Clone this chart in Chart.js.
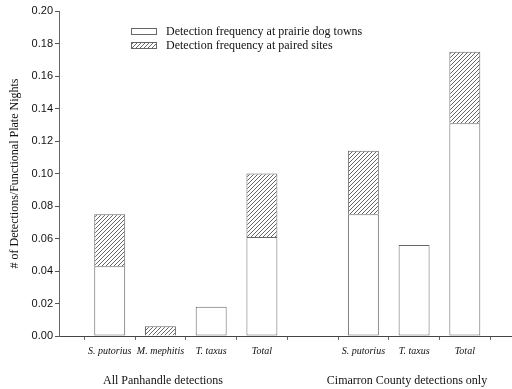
<!DOCTYPE html>
<html>
<head>
<meta charset="utf-8">
<script src="https://cdn.jsdelivr.net/npm/chart.js@4/dist/chart.umd.min.js"></script>
<style>
  html, body { margin: 0; padding: 0; background: #fff; }
  #wrap { width: 512px; height: 389px; }
</style>
</head>
<body>
<div id="wrap"><canvas id="c" width="512" height="389"></canvas></div>
<script>
// Category slots along the x axis (blank slots are spacers)
const categories = ['', 'S. putorius', 'M. mephitis', 'T. taxus', 'Total', '', 'S. putorius', 'T. taxus', 'Total'];
// Detection frequency at prairie dog towns (lower, white segment)
const townValues = [null, 0.043, null, 0.018, 0.061, null, 0.075, 0.056, 0.131];
// Additional detection frequency at paired sites (upper, hatched segment)
const pairedValues = [null, 0.032, 0.006, null, 0.039, null, 0.039, null, 0.044];
const seriesNames = ['Detection frequency at prairie dog towns', 'Detection frequency at paired sites'];
const groupLabels = ['All Panhandle detections', 'Cimarron County detections only'];
const groupCenters = [2.05, 6.86];
const xMax = 8.93;
const yTicks = [0, 0.02, 0.04, 0.06, 0.08, 0.10, 0.12, 0.14, 0.16, 0.18, 0.20];

const ctx = document.getElementById('c').getContext('2d');

// Diagonal hatch fill
function makeHatch() {
  const t = document.createElement('canvas');
  t.width = 4; t.height = 4;
  const g = t.getContext('2d');
  g.fillStyle = '#fff';
  g.fillRect(0, 0, 4, 4);
  g.strokeStyle = '#555';
  g.lineWidth = 0.9;
  g.beginPath();
  g.moveTo(0, 4); g.lineTo(4, 0);
  g.moveTo(-1, 1); g.lineTo(1, -1);
  g.moveTo(3, 5); g.lineTo(5, 3);
  g.stroke();
  return ctx.createPattern(t, 'repeat');
}
const hatch = makeHatch();

const serif = "'Liberation Serif', 'Times New Roman', serif";
const sans = "'Liberation Sans', Arial, sans-serif";

const toPoints = arr => arr.map((v, i) => ({ x: i, y: v }));

// Legend drawn inside the plot area, plus the two group captions under the axis
const extras = {
  id: 'extras',
  afterDraw(chart) {
    const c = chart.ctx;
    const area = chart.chartArea;
    const x = chart.scales.x;
    c.save();
    const lx = area.left + 72, ly = area.top + 20, rowGap = 14;
    chart.data.datasets.forEach((ds, i) => {
      const y = ly + i * rowGap;
      c.fillStyle = ds.backgroundColor;
      c.fillRect(lx, y - 3, 25, 6);
      c.strokeStyle = '#666';
      c.lineWidth = 1;
      c.strokeRect(lx + 0.5, y - 3 + 0.5, 25, 6);
      c.fillStyle = '#111';
      c.font = '12px ' + serif;
      c.textAlign = 'left';
      c.textBaseline = 'middle';
      c.fillText(ds.label, lx + 35, y + 0.5);
    });
    c.font = '12px ' + serif;
    c.textAlign = 'center';
    c.textBaseline = 'middle';
    c.fillStyle = '#111';
    groupLabels.forEach((t, i) => {
      c.fillText(t, x.getPixelForValue(groupCenters[i]), 381);
    });
    c.restore();
  }
};

new Chart(ctx, {
  type: 'bar',
  data: {
    datasets: [
      {
        label: seriesNames[0],
        data: toPoints(townValues),
        backgroundColor: '#ffffff',
        borderColor: '#666',
        borderWidth: 1,
        borderSkipped: false
      },
      {
        label: seriesNames[1],
        data: toPoints(pairedValues),
        backgroundColor: hatch,
        borderColor: '#666',
        borderWidth: 1,
        borderSkipped: 'start'
      }
    ]
  },
  options: {
    responsive: false,
    animation: false,
    devicePixelRatio: 1,
    layout: { padding: { top: 11, right: 0, left: 0, bottom: 0 } },
    datasets: { bar: { barPercentage: 1, categoryPercentage: 0.61 } },
    plugins: {
      legend: { display: false },
      tooltip: { enabled: false }
    },
    scales: {
      x: {
        type: 'linear',
        stacked: true,
        offset: false,
        min: 0,
        max: xMax,
        afterBuildTicks(s) { s.ticks = categories.map((_, i) => ({ value: i })); },
        grid: { display: true, drawOnChartArea: false, drawTicks: true, tickLength: 4, color: '#666' },
        border: { display: true, color: '#444', width: 1 },
        ticks: {
          autoSkip: false,
          maxRotation: 0,
          padding: 5,
          color: '#111',
          font: { family: serif, size: 10, style: 'italic' },
          callback: v => categories[v] || ''
        },
        afterFit(s) { s.height = 53; }
      },
      y: {
        stacked: true,
        min: 0,
        max: 0.2,
        afterBuildTicks(s) { s.ticks = yTicks.map(v => ({ value: v })); },
        grid: { display: true, drawOnChartArea: false, drawTicks: true, tickLength: 4, color: '#555' },
        border: { display: true, color: '#666', width: 1 },
        ticks: {
          padding: 2,
          color: '#111',
          font: { family: sans, size: 11 },
          callback: v => Number(v).toFixed(2)
        },
        title: {
          display: true,
          text: '# of Detections/Functional Plate Nights',
          color: '#111',
          font: { family: serif, size: 12 },
          padding: { top: 8, bottom: 0 }
        },
        afterFit(s) { s.width = 59; }
      }
    }
  },
  plugins: [extras]
});
</script>
</body>
</html>
